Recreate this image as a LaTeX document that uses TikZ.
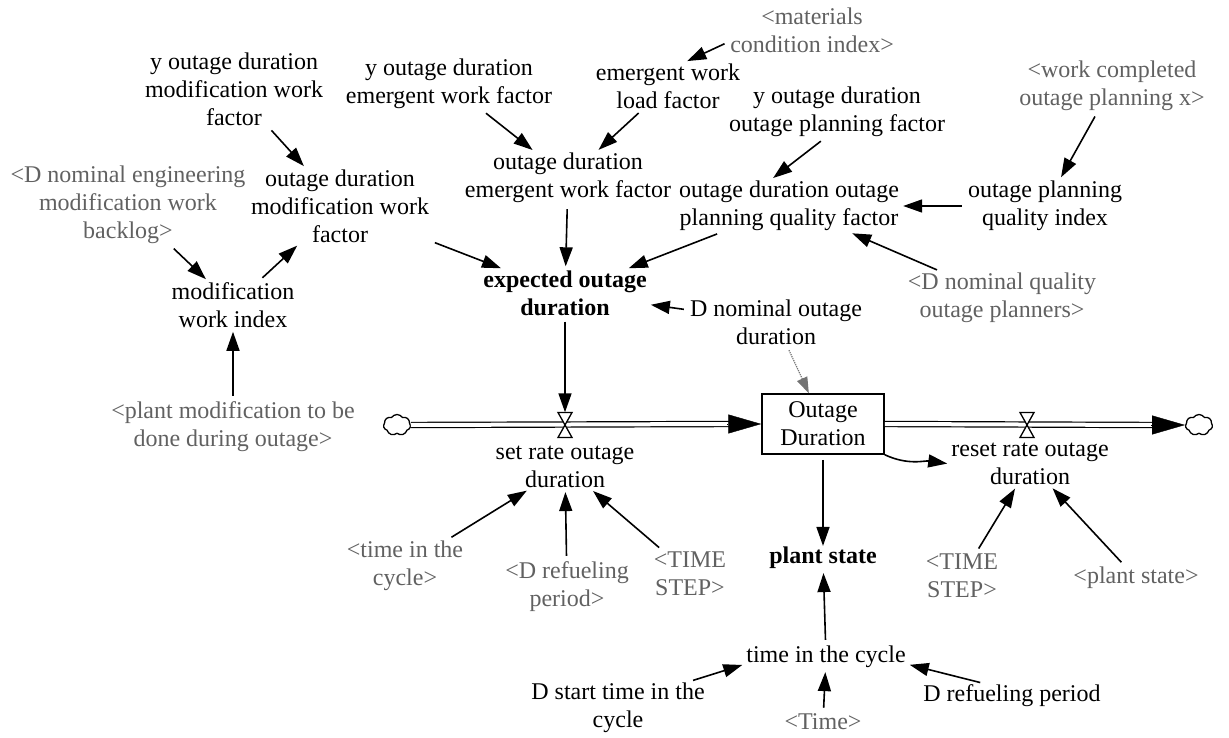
\documentclass[tikz,border=0pt]{standalone}
\usepackage{fontspec}
\setmainfont{Liberation Serif}
\usetikzlibrary{arrows.meta,calc,shapes.symbols}
\begin{document}
\begin{tikzpicture}[x=1pt,y=-1pt,
  every node/.style={font=\fontsize{24}{28}\selectfont, align=center, inner sep=1pt},
  shadowvar/.style={text=black!62},
  keyvar/.style={font=\fontsize{24}{28}\selectfont\bfseries},
  stock/.style={draw, line width=1.5pt, fill=white, minimum width=122pt, minimum height=60pt, inner sep=0pt},
  source/.style={cloud, draw, line width=1.3pt, cloud puffs=7, cloud puff arc=115, aspect=1.25,
                 minimum width=27pt, minimum height=21pt, inner sep=0pt},
  valvept/.style={minimum width=14pt, minimum height=25pt, inner sep=0pt},
  link/.style={line width=1.6pt, -{Triangle[length=19pt,width=13pt]}, shorten <=5pt, shorten >=3pt},
  infolink/.style={line width=1.2pt, densely dotted, black!55, -{Triangle[length=16pt,width=11pt]}, shorten <=5pt, shorten >=0pt},
  pipe/.style={line width=1.2pt, double distance=4pt},
  pipetip/.style={line width=0.4pt, -{Triangle[length=33pt,width=19pt]}}
]
\useasboundingbox (0,0) rectangle (1229,738);

% ---------- auxiliaries and converters ----------
\node (ymod)   at (234,89)  {y outage duration\\modification work\\factor};
\node (yemer)  at (449,84)  {y outage duration\\emergent work factor};
\node (ewload) at (668,86)  {emergent work\\load factor};
\node[shadowvar] (matidx) at (812,30) {<materials\\condition index>};
\node (yplan)  at (837,112) {y outage duration\\outage planning factor};
\node[shadowvar] (wcomp) at (1112,86) {<work completed\\outage planning x>};
\node (odemer) at (568,178) {outage duration\\emergent work factor};
\node (odplan) at (789,206) {outage duration outage\\planning quality factor};
\node (opqi)   at (1045,206) {outage planning\\quality index};
\node (odmod)  at (340,206) {outage duration\\modification work\\factor};
\node[shadowvar] (dneng) at (128,205) {<D nominal engineering\\modification work\\backlog>};
\node (modidx) at (233,305) {modification\\work index};
\node[keyvar] (expd) at (565,293) {expected outage\\duration};
\node (dnom)   at (776,322) {D nominal outage\\duration};
\node[shadowvar] (dnq) at (1002,298) {<D nominal quality\\outage planners>};
\node[shadowvar] (pmod) at (233,427) {<plant modification to be\\done during outage>};

% ---------- stock and flows ----------
\node[stock] (od) at (823,424) {Outage\\Duration};
\node[source] (srcL) at (397,425) {};
\node[source] (sinkR) at (1199,425) {};
\node[valvept] (v1) at (565,425) {};
\node[valvept] (v2) at (1027,425) {};

\draw[pipe] (srcL.east) -- ($(od.west)+(-32,0)$);
\draw[pipetip] ($(od.west)+(-34,0)$) -- (od.west);
\draw[pipe] (od.east) -- ($(sinkR.west)+(-32,0)$);
\draw[pipetip] ($(sinkR.west)+(-34,0)$) -- (sinkR.west);

\foreach \v in {v1,v2}
  \draw[line width=1.3pt, fill=white, line join=miter]
    ($(\v)+(-7,-12.5)$) -- ($(\v)+(7,-12.5)$) -- ($(\v)+(-7,12.5)$) -- ($(\v)+(7,12.5)$) -- cycle;

\node (setr)   at (565,467) {set rate outage\\duration};
\node (resetr) at (1030,464) {reset rate outage\\duration};

% ---------- lower variables ----------
\node[shadowvar] (tcs) at (405,566) {<time in the\\cycle>};
\node[shadowvar] (drs) at (567,587) {<D refueling\\period>};
\node[shadowvar] (ts1) at (690,574) {<TIME\\STEP>};
\node[keyvar] (ps) at (823,558) {plant state};
\node[shadowvar] (ts2) at (962,576) {<TIME\\STEP>};
\node[shadowvar] (pss) at (1136,578) {<plant state>};
\node (tic) at (826,657) {time in the cycle};
\node (dst) at (618,708) {D start time in the\\cycle};
\node[shadowvar] (tms) at (823,722) {<Time>};
\node (drp) at (1012,696) {D refueling period};

% ---------- causal links ----------
\draw[link] (ymod) -- (odmod);
\draw[link] (yemer) -- (odemer);
\draw[link] (ewload) -- (odemer);
\draw[link] (matidx.188) -- (ewload.55);
\draw[link] (yplan.-115) -- (odplan.125);
\draw[link] (wcomp) -- (opqi);
\draw[link] (opqi) -- (odplan);
\draw[link] (dnq) -- (odplan);
\draw[link] (odplan) -- (expd);
\draw[link] (odemer) -- (expd);
\draw[link] (odmod) -- (expd);
\draw[link] (dneng) -- (modidx);
\draw[link] (modidx) -- (odmod);
\draw[link] (pmod) -- (modidx);
\draw[link] (dnom) -- (expd);
\draw[infolink] (dnom) -- (od);
\draw[link, shorten >=0pt] (expd) -- (v1.north);
\draw[link, shorten >=0pt] (od) -- (ps);
\draw[link, shorten <=0pt] (od.south east) to[out=-25,in=172] (resetr.west);
\draw[link] (tcs) -- (setr);
\draw[link] (drs) -- (setr);
\draw[link] (ts1) -- (setr);
\draw[link] (ts2) -- (resetr);
\draw[link] (pss) -- (resetr);
\draw[link] (tic) -- (ps);
\draw[link] ($(dst.north)!0.8!(dst.north east)$) -- (tic.185);
\draw[link] (tms) -- (tic);
\draw[link] ($(drp.north west)!0.35!(drp.north east)$) -- (tic.-5);
\end{tikzpicture}
\end{document}
